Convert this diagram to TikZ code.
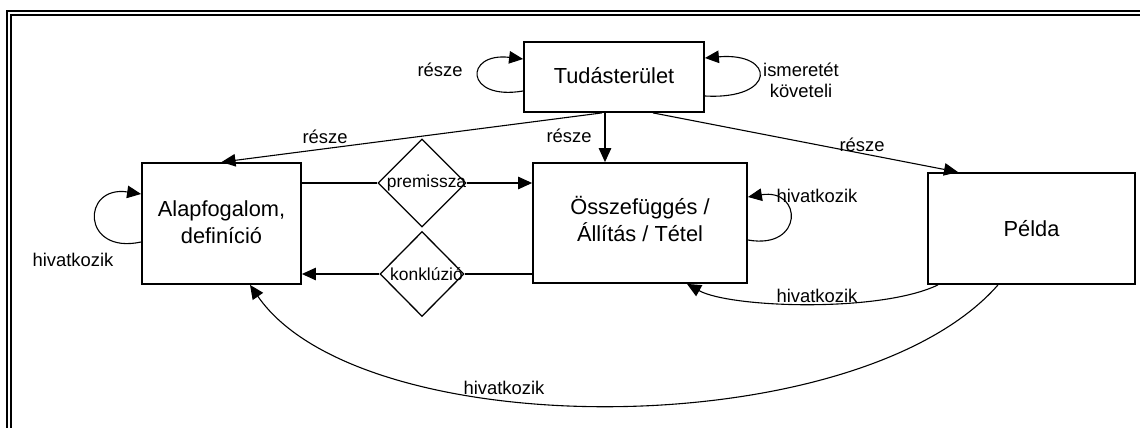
\documentclass[tikz,border=0pt]{standalone}
\usepackage{fontspec}
\setmainfont{Liberation Sans}
\usetikzlibrary{arrows.meta,shapes.geometric}
\begin{document}
\begin{tikzpicture}[x=1pt,y=-1pt,
  box/.style={draw,line width=1.8,inner sep=0,align=center,
    font=\fontsize{21.8}{27}\selectfont},
  decision/.style={draw,diamond,line width=1.3,inner sep=0},
  dtext/.style={font=\fontsize{17.4}{20}\selectfont,inner sep=0,xshift=4.5},
  lbl/.style={font=\fontsize{18.4}{21}\selectfont,inner sep=0,align=center},
  link/.style={line width=1.1},
  arr/.style={link,-{Triangle[length=14,width=12.5]}},
  frame/.style={line width=2}]
\useasboundingbox (0,0) rectangle (1140,428);

% double frame along the top and left edges
\draw[frame] (7,428) -- (7,11) -- (1140,11);
\draw[frame] (11,428) -- (11,15) -- (1140,15);

% boxes
\node[box,minimum width=180,minimum height=70] (tud) at (614,77)
  {Tudásterület\rule[-3pt]{0pt}{1pt}};
\node[box,minimum width=159,minimum height=121] (alap) at (221.5,223.5)
  {Alapfogalom,\\definíció\rule[-2pt]{0pt}{1pt}};
\node[box,minimum width=214,minimum height=120] (ossz) at (640,223)
  {Összefüggés /\\Állítás / Tétel\rule[-8pt]{0pt}{1pt}};
\node[box,minimum width=207,minimum height=111] (pelda) at (1031.5,228.5) {Példa};

% decision diamonds
\node[decision,minimum width=88,minimum height=88,
  label={[dtext]center:premissza}] (prem) at (422,183) {};
\node[decision,minimum width=84,minimum height=85,
  label={[dtext]center:konklúzió}] (konk) at (422,274) {};

% premise and conclusion flow
\draw[link] (alap.east |- prem.west) -- (prem.west);
\draw[arr] (prem.east) -- (prem.east -| ossz.west);
\draw[link] (konk.east -| ossz.west) -- (konk.east);
\draw[arr] (konk.west) -- (konk.west -| alap.east);

% part-of relations from the domain
\draw[arr] ([xshift=-12]tud.south) -- (alap.north);
\draw[arr] ([xshift=-9]tud.south) -- ([xshift=-9]tud.south |- ossz.north);
\draw[arr] ([xshift=39]tud.south) -- ([xshift=-73.5]pelda.north);

% self loops
\draw[arr] ([yshift=-14]tud.west) .. controls +(-59,10) and +(-59,-7) .. ([yshift=18]tud.west);
\draw[arr] ([yshift=-19]tud.east) .. controls +(72,4) and +(71,-6) .. ([yshift=19]tud.east);
\draw[arr] ([yshift=-18.5]alap.west) .. controls +(-60,13) and +(-60,-9) .. ([yshift=29.5]alap.west);
\draw[arr] ([yshift=-17]ossz.east) .. controls +(56,10) and +(55,-9) .. ([yshift=26]ossz.east);

% references from the example
\draw[arr] ([xshift=-93.5]pelda.south) .. controls +(-58,28) and +(43,24) .. ([xshift=47]ossz.south);
\draw[arr] ([xshift=-33.5]pelda.south) .. controls +(-140,160) and +(111,161) .. ([xshift=28.5]alap.south);

% relation labels
\node[lbl] (l1) at (440,70) {része};
\node[lbl] (l2) at (801,80) {ismeretét\\követeli};
\node[lbl] (l3) at (325,137) {része};
\node[lbl] (l4) at (569,136) {része};
\node[lbl] (l5) at (862,145) {része};
\node[lbl] (l6) at (73,260) {hivatkozik};
\node[lbl] (l7) at (817,196) {hivatkozik};
\node[lbl] (l8) at (817,296) {hivatkozik};
\node[lbl] (l9) at (504,388) {hivatkozik};
\end{tikzpicture}
\end{document}
